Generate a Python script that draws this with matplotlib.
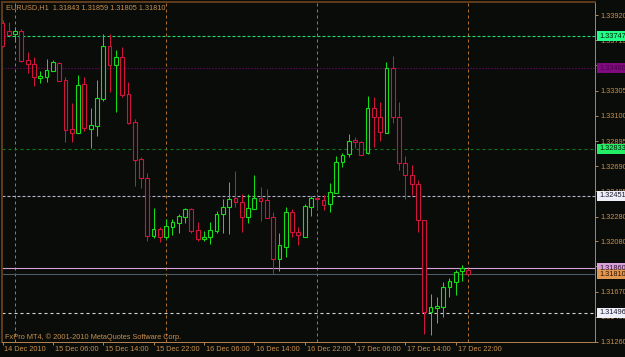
import matplotlib
matplotlib.use('Agg')
import matplotlib.pyplot as plt
from matplotlib.patches import Rectangle
import matplotlib.transforms as mtransforms

# ---------------- data ----------------
title_text = "EURUSD,H1  1.31843 1.31859 1.31805 1.31810"
footer_text = "FxPro MT4, \u00a9 2001-2010 MetaQuotes Software Corp."

opens = [1.33855, 1.33790, 1.33763, 1.33790, 1.33554, 1.33521, 1.33405, 1.33418, 1.33467, 1.33527,
         1.33391, 1.32993, 1.32962, 1.33356, 1.32995, 1.33019, 1.33234, 1.33668, 1.33513, 1.33576,
         1.33277, 1.33052, 1.32746, 1.32596, 1.32125, 1.32179, 1.32116, 1.32193, 1.32230, 1.32279,
         1.32339, 1.32171, 1.32100, 1.32112, 1.32165, 1.32299, 1.32356, 1.32429, 1.32396, 1.32279,
         1.32344, 1.32429, 1.32415, 1.32274, 1.31933, 1.32035, 1.32320, 1.32155, 1.32116, 1.32361,
         1.32429, 1.32415, 1.32380, 1.32474, 1.32727, 1.32787, 1.32903, 1.32889, 1.32795, 1.33166,
         1.33088, 1.32962, 1.33486, 1.33088, 1.32718, 1.32618, 1.32545, 1.32252, 1.31506, 1.31539,
         1.31547, 1.31705, 1.31750, 1.31837, 1.31843]
highs = [1.33879, 1.33865, 1.33822, 1.33804, 1.33617, 1.33576, 1.33467, 1.33560, 1.33554, 1.33540,
         1.33413, 1.33202, 1.33432, 1.33413, 1.33161, 1.33391, 1.33765, 1.33769, 1.33635, 1.33657,
         1.33377, 1.33072, 1.32767, 1.32632, 1.32354, 1.32198, 1.32258, 1.32258, 1.32299, 1.32348,
         1.32348, 1.32239, 1.32163, 1.32239, 1.32326, 1.32421, 1.32564, 1.32653, 1.32461, 1.32464,
         1.32618, 1.32518, 1.32505, 1.32320, 1.32144, 1.32361, 1.32339, 1.32193, 1.32383, 1.32448,
         1.32464, 1.32456, 1.32551, 1.32775, 1.32795, 1.32950, 1.32930, 1.32897, 1.33261, 1.33255,
         1.33210, 1.33535, 1.33586, 1.33210, 1.32773, 1.32700, 1.32578, 1.32252, 1.31650, 1.31623,
         1.31750, 1.31783, 1.31846, 1.31886, 1.31859]
lows = [1.33660, 1.33757, 1.33703, 1.33540, 1.33446, 1.33345, 1.33364, 1.33377, 1.33467, 1.33386,
        1.32889, 1.32889, 1.32958, 1.32979, 1.32836, 1.32936, 1.33223, 1.33296, 1.33128, 1.33250,
        1.33033, 1.32531, 1.32510, 1.32084, 1.32103, 1.32076, 1.32095, 1.32130, 1.32144, 1.32230,
        1.32149, 1.32082, 1.32084, 1.32055, 1.32144, 1.32144, 1.32138, 1.32361, 1.32157, 1.32226,
        1.32339, 1.32247, 1.32271, 1.31810, 1.31840, 1.31954, 1.32112, 1.32049, 1.32116, 1.32287,
        1.32334, 1.32334, 1.32320, 1.32474, 1.32681, 1.32767, 1.32836, 1.32781, 1.32789, 1.32849,
        1.32897, 1.32962, 1.33044, 1.32659, 1.32421, 1.32456, 1.32157, 1.31325, 1.31317, 1.31412,
        1.31461, 1.31628, 1.31642, 1.31759, 1.31805]
closes = [1.33668, 1.33761, 1.33790, 1.33548, 1.33519, 1.33413, 1.33424, 1.33473, 1.33538, 1.33386,
          1.32984, 1.32962, 1.33351, 1.32998, 1.33025, 1.33242, 1.33668, 1.33513, 1.33576, 1.33269,
          1.33044, 1.32740, 1.32592, 1.32125, 1.32179, 1.32116, 1.32204, 1.32239, 1.32285, 1.32339,
          1.32163, 1.32098, 1.32116, 1.32171, 1.32301, 1.32356, 1.32421, 1.32401, 1.32279, 1.32348,
          1.32429, 1.32409, 1.32271, 1.31933, 1.32049, 1.32320, 1.32152, 1.32128, 1.32366, 1.32434,
          1.32421, 1.32374, 1.32478, 1.32727, 1.32781, 1.32895, 1.32889, 1.32781, 1.33166, 1.33088,
          1.32971, 1.33486, 1.33088, 1.32718, 1.32618, 1.32543, 1.32252, 1.31506, 1.31542, 1.31555,
          1.31705, 1.31759, 1.31827, 1.31864, 1.31810]

time_label_bars = [0, 8, 16, 24, 32, 40, 48, 56, 64, 72]
time_labels = ["14 Dec 2010", "15 Dec 06:00", "15 Dec 14:00", "15 Dec 22:00", "16 Dec 06:00",
               "16 Dec 14:00", "16 Dec 22:00", "17 Dec 06:00", "17 Dec 14:00", "17 Dec 22:00"]
day_separator_bars = [2, 26, 50, 74]

price_ticks = [1.33920, 1.33715, 1.33510, 1.33305, 1.33100, 1.32895, 1.32690,
               1.32485, 1.32280, 1.32080, 1.31875, 1.31670, 1.31465, 1.31260]
price_tick_labels = ["1.33920", "1.33715", "1.33510", "1.33305", "1.33100", "1.32895", "1.32690",
                     "1.32485", "1.32280", "1.32080", "1.31875", "1.31670", "1.31465", "1.31260"]

level_prices = [1.33747, 1.33486, 1.32833, 1.32451, 1.31860, 1.31810, 1.31496]
level_labels = ["1.33747", "1.33486", "1.32833", "1.32451", "1.31860", "1.31810", "1.31496"]

# ---------------- style ----------------
W, H = 625, 357
BG = '#0a0c0a'
FG = '#c8904c'
BULL = '#12e012'
BEAR = '#d0143c'
FONT = ['Liberation Sans', 'DejaVu Sans']
FS = 5.3
plt.rcParams['font.family'] = FONT
plt.rcParams['lines.scale_dashes'] = False
PX = 0.72  # one pixel in points at dpi=100

level_line_colors = ['#20e070', '#800a80', '#0c7a20', '#b4b4cc', '#d8a0d8', '#4c5a64', '#d8d8d8']
level_line_styles = [(0, (3 * PX, 2 * PX)), (0, (1 * PX, 2 * PX)), (0, (3 * PX, 3 * PX)),
                     (0, (3 * PX, 2 * PX)), '-', '-', (0, (3 * PX, 3 * PX))]
level_box_colors = ['#22ff88', '#800a80', '#22ee66', '#eeeef8', '#d8a0d8', '#e09850', '#f0f0fa']
level_text_colors = ['#001a08', '#4a004a', '#001a08', '#1a1a30', '#301030', '#301000', '#1a1a30']

fig = plt.figure(figsize=(W / 100, H / 100), dpi=100, facecolor=BG)

# plot area in pixels
L, R, T, B = 2, 595, 2, 342
ax = fig.add_axes([L / W, 1 - B / H, (R - L) / W, (B - T) / H])
ax.set_facecolor(BG)

bar_px = 6.295
x0_px = 2.5
ax.set_xlim((L - x0_px) / bar_px, (R - x0_px) / bar_px)
ax.set_ylim(1.31260, 1.34026)

# day separators
for b in day_separator_bars:
    ax.axvline(b, color='#b07030', lw=PX, ls=(0, (3 * PX, 3 * PX)), zorder=1)

# level lines
for p, c, s in zip(level_prices, level_line_colors, level_line_styles):
    ax.axhline(p, color=c, lw=PX * 1.1, ls=s, zorder=2)

# candles
bw = 0.6
for i, (o, h, l, c) in enumerate(zip(opens, highs, lows, closes)):
    col = BULL if c >= o else BEAR
    ax.vlines(i, l, h, color=col, lw=PX, zorder=3)
    lo, hi = min(o, c), max(o, c)
    ax.add_patch(Rectangle((i - bw / 2, lo), bw, max(hi - lo, 1e-6), facecolor=BG,
                           edgecolor=col, lw=PX * 1.1, zorder=4))

# spines
for side in ['left', 'top']:
    ax.spines[side].set_color('#5c3a1a')
    ax.spines[side].set_linewidth(2 * PX)
for side in ['right', 'bottom']:
    ax.spines[side].set_color('#b08050')
    ax.spines[side].set_linewidth(PX)

# y axis on the right
ax.yaxis.tick_right()
ax.set_yticks(price_ticks)
ax.set_yticklabels(price_tick_labels)
ax.tick_params(axis='y', direction='out', length=3 * PX, width=PX, color='#b08050',
               labelcolor=FG, labelsize=FS, pad=1.5)
ax.tick_params(axis='y', which='both', left=False)

# x axis
ax.set_xticks(time_label_bars)
ax.set_xticklabels(time_labels, ha='left')
ax.tick_params(axis='x', direction='out', length=3 * PX, width=PX, color='#b08050',
               labelcolor=FG, labelsize=FS, pad=1.0)
off = mtransforms.ScaledTranslation(2 / 100, 0, fig.dpi_scale_trans)
for lab in ax.get_xticklabels():
    lab.set_transform(lab.get_transform() + off)

# title and footer
fig.text(6 / W, 1 - 7.5 / H, title_text, color=FG, fontsize=FS, ha='left', va='center')
fig.text(5 / W, 1 - 337.5 / H, footer_text, color=FG, fontsize=FS, ha='left', va='center')

# level price boxes on the price scale
for p, lab, bc, tc in zip(level_prices, level_labels, level_box_colors, level_text_colors):
    ypix = (1.34042 - p) / 8.135e-5
    fig.patches.append(Rectangle((597 / W, 1 - (ypix + 5) / H), 30 / W, 10 / H,
                                 transform=fig.transFigure, facecolor=bc, edgecolor='none',
                                 zorder=5))
    fig.text(599.5 / W, 1 - ypix / H, lab, color=tc, fontsize=FS, ha='left', va='center',
             zorder=6)

fig.savefig('out.png', dpi=100, facecolor=BG)
